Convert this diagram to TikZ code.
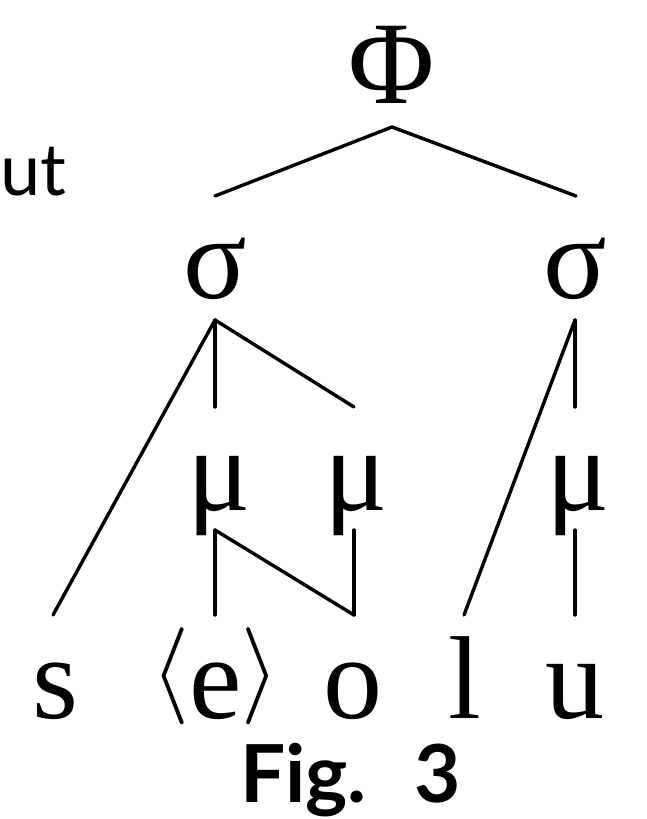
\documentclass[tikz,border=0pt]{standalone}
\usepackage{unicode-math}
\setmainfont{Liberation Serif}
\newfontfamily\lato{Lato}
\begin{document}
\begin{tikzpicture}[x=1pt,y=-1pt,
  every node/.style={inner sep=0pt, outer sep=0pt, anchor=base},
  big/.style={font=\fontsize{118}{118}\selectfont},
  ln/.style={line width=3.4pt, line cap=round}]
\useasboundingbox (0,0) rectangle (646,819);
% labels
\node[anchor=base west, font=\lato\fontsize{72}{72}\selectfont] (ut) at (0,195) {ut};
\node[big] (phi) at (392,103) {Φ};
\node[big] (s1) at (215,298) {σ};
\node[big] (s2) at (575,298) {σ};
\node[big] (m1) at (219,510) {μ};
\node[big] (m2) at (356,510) {μ};
\node[big] (m3) at (578,510) {μ};
\node[big] (ts) at (55,718) {s};
\node[big] (te) at (215.5,718) {\raisebox{18pt}{\fontsize{97}{97}\selectfont$\langle$}e\raisebox{18pt}{\fontsize{97}{97}\selectfont$\rangle$}};
\node[big] (to) at (353,718) {o};
\node[big] (tl) at (465,718) {l};
\node[big] (tu) at (575,718) {u};
\node[anchor=base west, font=\lato\bfseries\fontsize{80}{80}\selectfont] (fig) at (240,802) {Fig.\hspace{0.6em}3};
% connector ends
\coordinate (phiB) at (392,127);
\coordinate (s1T) at (215,196);
\coordinate (s2T) at (576,196);
\coordinate (s1B) at (215,320);
\coordinate (s2B) at (575,320);
\coordinate (m1T) at (215,407);
\coordinate (m2T) at (354,407);
\coordinate (m3T) at (575,407);
\coordinate (m1B) at (215,530);
\coordinate (m2B) at (354,530);
\coordinate (m3B) at (575,530);
\coordinate (sT) at (53,615);
\coordinate (eT) at (215,615);
\coordinate (oT) at (354,615);
\coordinate (lT) at (464,615);
\coordinate (uT) at (575,615);
% connectors
\draw[ln] (s1T) -- (phiB) -- (s2T);
\draw[ln] (s1B) -- (m1T);
\draw[ln] (s1B) -- (m2T);
\draw[ln] (s1B) -- (sT);
\draw[ln] (s2B) -- (m3T);
\draw[ln] (s2B) -- (lT);
\draw[ln] (m1B) -- (eT);
\draw[ln] (m1B) -- (oT);
\draw[ln] (m2B) -- (oT);
\draw[ln] (m3B) -- (uT);
\end{tikzpicture}
\end{document}
